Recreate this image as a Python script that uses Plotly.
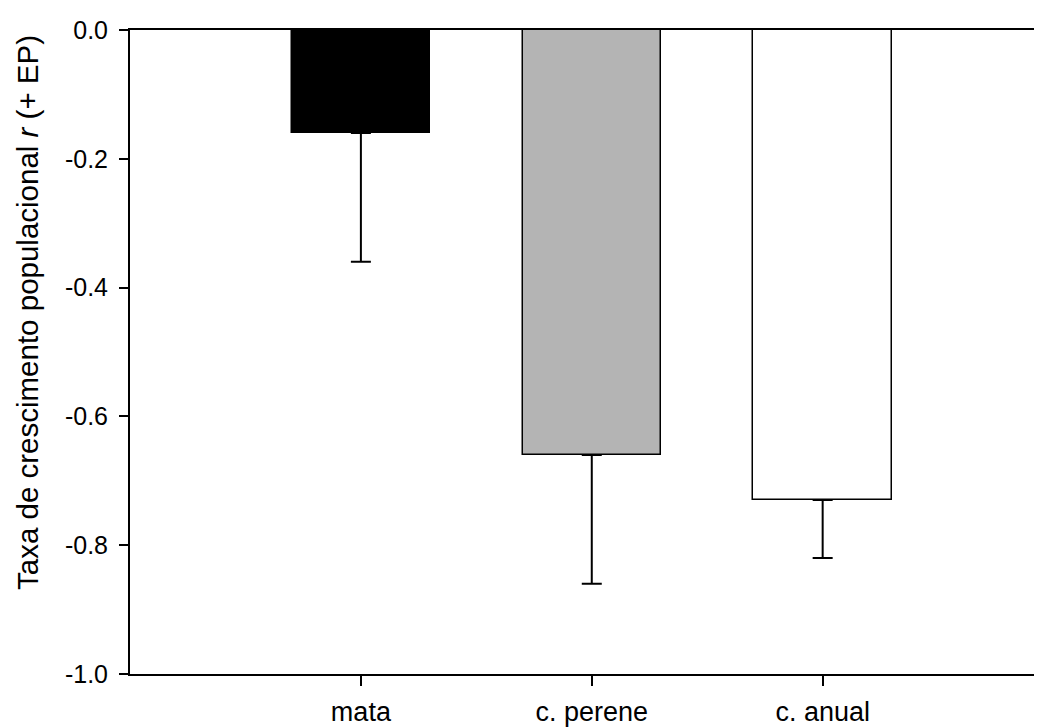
import plotly.graph_objects as go

categories = ["mata", "c. perene", "c. anual"]
values = [-0.16, -0.66, -0.73]
errors = [0.20, 0.20, 0.09]
bar_colors = ["#000000", "#b4b4b4", "#ffffff"]
y_tick_vals = [0.0, -0.2, -0.4, -0.6, -0.8, -1.0]
y_tick_text = ["0.0", "-0.2", "-0.4", "-0.6", "-0.8", "-1.0"]

fig = go.Figure()
fig.add_trace(go.Bar(
    x=[0, 1, 2],
    y=values,
    width=0.6,
    marker=dict(color=bar_colors, line=dict(color="black", width=1.5)),
    error_y=dict(type="data", symmetric=False, array=[0, 0, 0], arrayminus=errors,
                 color="black", thickness=2, width=10),
    showlegend=False,
))

fig.update_layout(
    width=1042, height=727,
    margin=dict(l=122, r=8, t=22, b=61),
    plot_bgcolor="white", paper_bgcolor="white",
    font=dict(family="Arial, Liberation Sans, sans-serif", size=26, color="black"),
    bargap=0,
    xaxis=dict(
        range=[-1, 2.95],
        tickvals=[0, 1, 2], ticktext=categories,
        showline=True, linecolor="black", linewidth=2, mirror=True,
        ticks="outside", ticklen=10, tickwidth=1.5, tickcolor="black",
        ticklabelstandoff=3,
        showgrid=False, zeroline=False,
        tickfont=dict(size=27),
    ),
    yaxis=dict(
        range=[-1.0, 0.0],
        tickvals=y_tick_vals, ticktext=y_tick_text,
        showline=True, linecolor="black", linewidth=2,
        ticks="outside", ticklen=9, tickwidth=1.5, tickcolor="black",
        ticklabelstandoff=6,
        showgrid=False, zeroline=False,
        tickfont=dict(size=25),
    ),
    annotations=[dict(
        text="Taxa de crescimento populacional <i>r</i> (+ EP)",
        xref="paper", yref="paper", x=-0.113, y=0.562,
        textangle=-90, showarrow=False, font=dict(size=29.5),
        xanchor="center", yanchor="middle",
    )],
)

fig.write_html("out.html")
